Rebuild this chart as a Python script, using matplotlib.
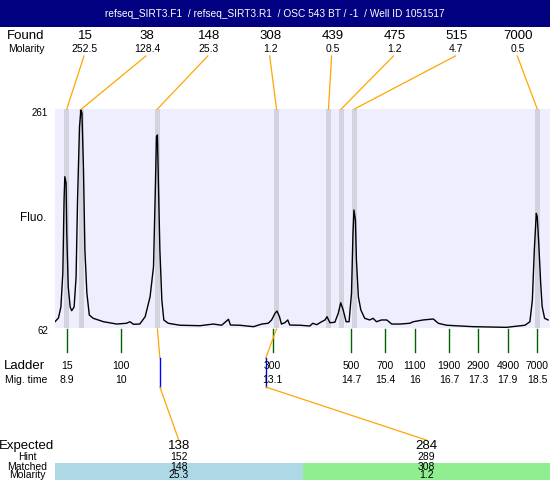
import numpy as np
import matplotlib.pyplot as plt
from matplotlib.patches import Rectangle

plt.rcParams['font.family'] = ['Liberation Sans', 'DejaVu Sans']

title = "refseq_SIRT3.F1  / refseq_SIRT3.R1  / OSC 543 BT / -1  / Well ID 1051517"

# found peaks
found_size = ["15", "38", "148", "308", "439", "475", "515", "7000"]
found_molarity = ["252.5", "128.4", "25.3", "1.2", "0.5", "1.2", "4.7", "0.5"]
found_time = [8.90, 9.20, 10.75, 13.18, 14.24, 14.50, 14.77, 18.50]

# ladder
ladder_size = ["15", "100", "300", "500", "700", "1100", "1900", "2900", "4900", "7000"]
ladder_time = ["8.9", "10", "13.1", "14.7", "15.4", "16", "16.7", "17.3", "17.9", "18.5"]

# expected fragments
expected = ["138", "284"]
hint = ["152", "289"]
matched = ["148", "308"]
matched_molarity = ["25.3", "1.2"]
matched_time = [10.75, 13.18]
hint_time = [10.80, 12.96]

# electropherogram trace (migration time, fluorescence)
trace_t = [8.66, 8.73, 8.78, 8.82, 8.845, 8.86, 8.886, 8.90, 8.93, 8.97, 9.00, 9.05,
           9.09, 9.12, 9.16, 9.19, 9.21, 9.24, 9.27, 9.31, 9.36, 9.44, 9.65, 9.92,
           10.12, 10.19, 10.26, 10.39, 10.50, 10.60, 10.67, 10.71, 10.73, 10.75, 10.77,
           10.80, 10.84, 10.88, 10.97, 11.21, 11.62, 11.89, 12.06, 12.20, 12.24, 12.43,
           12.71, 12.88, 13.01, 13.08, 13.15, 13.19, 13.24, 13.28, 13.35, 13.41, 13.45,
           13.66, 13.86, 13.92, 14.00, 14.10, 14.17, 14.21, 14.27, 14.37, 14.44, 14.49,
           14.54, 14.60, 14.66, 14.71, 14.74, 14.76, 14.79, 14.81, 14.85, 14.90, 14.98,
           15.08, 15.15, 15.22, 15.32, 15.43, 15.53, 15.70, 15.90, 15.97, 16.17, 16.38,
           16.48, 16.65, 17.19, 17.87, 18.25, 18.35, 18.40, 18.44, 18.48, 18.50, 18.53,
           18.57, 18.60, 18.65, 18.72]
trace_f = [67.7, 71.1, 81.1, 112.0, 178.3, 199.5, 193.8, 148.3, 99.3, 81.1, 77.7, 81.1,
           108.3, 178.3, 244.9, 260.1, 257.4, 208.6, 132.9, 93.8, 73.8, 70.8, 67.7, 65.6,
           66.3, 67.7, 65.4, 65.6, 72.3, 90.4, 117.7, 193.8, 235.8, 237.4, 193.8,
           132.9, 87.4, 69.3, 66.3, 64.5, 64.1, 65.6, 64.5, 69.9, 64.7, 64.5,
           63.2, 65.6, 66.3, 69.3, 75.4, 77.4, 72.3, 65.6, 66.8, 69.3, 64.7,
           64.5, 63.8, 66.3, 65.0, 67.7, 69.3, 72.3, 66.8, 67.2, 75.4, 85.0,
           78.4, 67.7, 67.7, 93.5, 148.1, 169.2, 160.1, 123.8, 90.4, 78.4, 70.8,
           69.3, 70.8, 67.7, 69.3, 69.3, 65.6, 65.6, 66.3, 67.7, 69.3, 70.2,
           66.3, 64.5, 63.2, 62.6, 64.5, 67.7, 87.4, 132.9, 166.2, 163.1, 139.0,
           102.6, 81.4, 70.8, 69.3]

W, H = 550, 480
fig = plt.figure(figsize=(W / 100, H / 100), dpi=100)

# main plot area
ax = fig.add_axes([55 / W, 1 - 328 / H, 495 / W, 219 / H])
ax.set_facecolor('#EEEEFF')
ax.set_xlim(8.66, 18.76)
ax.set_ylim(62, 261)
for s in ax.spines.values():
    s.set_visible(False)
ax.set_xticks([])
ax.set_yticks([])
for t in found_time:
    ax.axvspan(t - 0.05, t + 0.05, color='#D3D3E0', lw=0)
ax.plot(trace_t, trace_f, color='black', lw=1)

# overlay in figure pixels (y down)
ov = fig.add_axes([0, 0, 1, 1])
ov.set_xlim(0, W)
ov.set_ylim(H, 0)
ov.axis('off')
ov.patch.set_alpha(0)


def px(t):
    return ax.transData.transform((t, 62))[0]


ov.add_patch(Rectangle((0, 0), W, 27, color='#000080', lw=0))
ov.text(W / 2, 14, title, color='white', fontsize=7.3, ha='center', va='center')

# found row
ov.text(26, 36, "Found", fontsize=9.5, ha='center', va='center')
ov.text(26, 49, "Molarity", fontsize=7.5, ha='center', va='center')
for i, (s, m, t) in enumerate(zip(found_size, found_molarity, found_time)):
    lx = 85 + i * 61.9
    ov.text(lx, 36, s, fontsize=9.5, ha='center', va='center')
    ov.text(lx, 49, m, fontsize=7.5, ha='center', va='center')
    ov.plot([lx - 1, px(t)], [56, 109], color='orange', lw=0.9)

ov.text(48, 113, "261", fontsize=7, ha='right', va='center')
ov.text(48, 331, "62", fontsize=7, ha='right', va='center')
ov.text(33, 218, "Fluo.", fontsize=8.5, ha='center', va='center')

# ladder row
ov.text(24, 366, "Ladder", fontsize=9.5, ha='center', va='center')
ov.text(26, 380, "Mig. time", fontsize=7.5, ha='center', va='center')
for s, mt in zip(ladder_size, ladder_time):
    x = px(float(mt))
    ov.plot([x, x], [329, 352], color='#006400', lw=1)
    ov.text(x, 366, s, fontsize=7.5, ha='center', va='center')
    ov.text(x, 380, mt, fontsize=7.5, ha='center', va='center')

# expected / matched rows
ov.text(27, 446, "Expected", fontsize=9.5, ha='center', va='center')
ov.text(27, 457, "Hint", fontsize=7.5, ha='center', va='center')
ov.text(27, 467, "Matched", fontsize=7.5, ha='center', va='center')
ov.text(27, 475.5, "Molarity", fontsize=7.5, ha='center', va='center')
colors = ['#ADD8E6', '#90EE90']
cw = (W - 55) / len(expected)
for i in range(len(expected)):
    x0 = 55 + i * cw
    cx = x0 + cw / 2
    ov.add_patch(Rectangle((x0, 463), cw, 17, color=colors[i], lw=0))
    ov.text(cx, 446, expected[i], fontsize=9.5, ha='center', va='center')
    ov.text(cx, 457, hint[i], fontsize=7.5, ha='center', va='center')
    ov.text(cx, 467, matched[i], fontsize=7.5, ha='center', va='center')
    ov.text(cx, 475.5, matched_molarity[i], fontsize=7.5, ha='center', va='center')
    hx = px(hint_time[i])
    ov.plot([px(matched_time[i]), hx], [329, 358], color='orange', lw=0.9)
    ov.plot([hx, hx], [358, 387], color='blue', lw=1)
    ov.plot([hx, cx], [387, 440], color='orange', lw=0.9)

fig.savefig('out.png', dpi=100)
